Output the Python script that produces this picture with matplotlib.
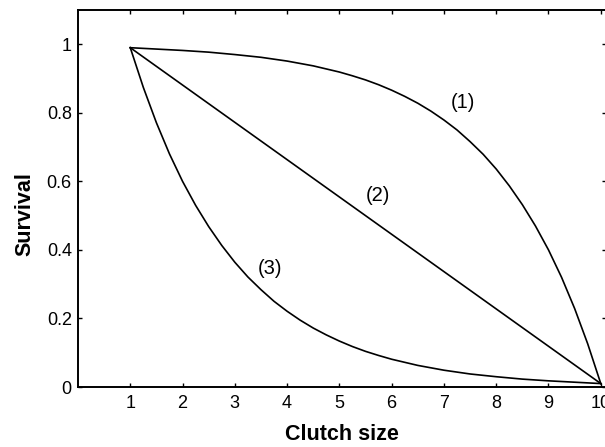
"""Survival vs clutch size for three trade-off shapes."""

import matplotlib
matplotlib.use("Agg")
import matplotlib.pyplot as plt

plt.rcParams["font.family"] = ["Liberation Sans", "DejaVu Sans"]

# curve (1): concave, survival stays high then drops
clutch_1 = [1.0, 1.5, 2.0, 2.5, 3.0, 3.5, 4.0, 4.5, 5.0, 5.25, 5.5, 5.75,
            6.0, 6.25, 6.5, 6.75, 7.0, 7.25, 7.5, 7.75, 8.0, 8.25, 8.5,
            8.75, 9.0, 9.25, 9.5, 9.75, 10.0]
surv_1 = [0.990, 0.986, 0.982, 0.977, 0.970, 0.962, 0.951, 0.937, 0.919,
          0.908, 0.896, 0.882, 0.866, 0.848, 0.828, 0.805, 0.779, 0.750,
          0.716, 0.679, 0.636, 0.587, 0.532, 0.470, 0.400, 0.320, 0.229,
          0.126, 0.010]

# curve (2): linear
clutch_2 = [1.0, 10.0]
surv_2 = [0.990, 0.010]

# curve (3): convex, survival drops fast
clutch_3 = [1.0, 1.25, 1.5, 1.75, 2.0, 2.25, 2.5, 2.75, 3.0, 3.25, 3.5,
            3.75, 4.0, 4.25, 4.5, 4.75, 5.0, 5.25, 5.5, 5.75, 6.0, 6.5,
            7.0, 7.5, 8.0, 8.5, 9.0, 9.5, 10.0]
surv_3 = [0.990, 0.874, 0.771, 0.680, 0.600, 0.530, 0.468, 0.413, 0.364,
          0.321, 0.284, 0.250, 0.221, 0.195, 0.172, 0.152, 0.134, 0.118,
          0.104, 0.092, 0.081, 0.063, 0.049, 0.038, 0.030, 0.023, 0.018,
          0.014, 0.010]

labels = ["(1)", "(2)", "(3)"]
label_x = [7.37, 5.74, 3.67]
label_y = [0.83, 0.56, 0.345]

fig = plt.figure(figsize=(6.05, 4.47), dpi=100)
# axes run past the right edge, like the cropped original
ax = fig.add_axes([78 / 605, 60 / 447, 528 / 605, 377 / 447])

for xs, ys in [(clutch_1, surv_1), (clutch_2, surv_2), (clutch_3, surv_3)]:
    ax.plot(xs, ys, color="black", lw=1.2, clip_on=False)

for txt, tx, ty in zip(labels, label_x, label_y):
    ax.text(tx, ty, txt, fontsize=14.5, ha="center", va="center")

ax.set_xlim(0, 10.1)
ax.set_ylim(0, 1.1)
ax.set_xticks(range(1, 11))
ax.set_yticks([0, 0.2, 0.4, 0.6, 0.8, 1])
ax.set_yticklabels(["0", "0.2", "0.4", "0.6", "0.8", "1"])
ax.tick_params(direction="in", length=3, width=1, top=True, right=True,
               labelsize=13)
ax.tick_params(axis="x", pad=6)
ax.tick_params(axis="y", pad=4.5)
for sp in ax.spines.values():
    sp.set_linewidth(1.4)

ax.set_xlabel("Clutch size", fontsize=15.5, fontweight="bold", labelpad=8.5)
ax.set_ylabel("Survival", fontsize=15.5, fontweight="bold", labelpad=8, y=0.46)

fig.savefig("out.png", dpi=100)
